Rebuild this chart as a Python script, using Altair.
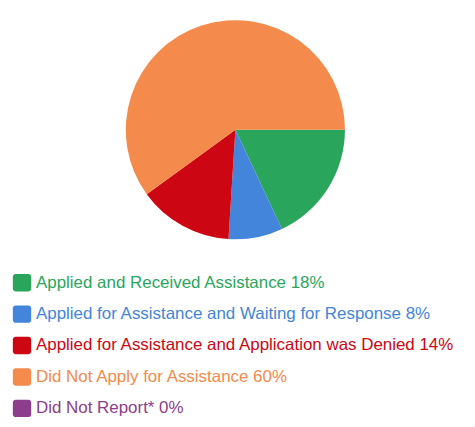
import altair as alt
import pandas as pd

categories = [
    "Applied and Received Assistance",
    "Applied for Assistance and Waiting for Response",
    "Applied for Assistance and Application was Denied",
    "Did Not Apply for Assistance",
    "Did Not Report*",
]
values = [18, 8, 14, 60, 0]
colors = ["#2aa65c", "#4385da", "#cc0613", "#f48a4c", "#8c3d8c"]

df = pd.DataFrame({
    "category": categories,
    "value": values,
    "order": list(range(len(categories))),
    "label": [f"{c} {v}%" for c, v in zip(categories, values)],
})

color = alt.Color("category:N", scale=alt.Scale(domain=categories, range=colors), legend=None)

pie = alt.Chart(df).mark_arc(outerRadius=113.4, stroke=None).encode(
    theta=alt.Theta("value:Q", stack=True, scale=alt.Scale(range=[1.5708, 7.8540])),
    order=alt.Order("order:Q"),
    color=color,
    x=alt.value(235.3),
    y=alt.value(118.7),
)

yscale = alt.Scale(domain=[0, 4], range=[277, 407])

swatch = alt.Chart(df).mark_rect(cornerRadius=3, yOffset=-9, y2Offset=9).encode(
    x=alt.value(5),
    x2=alt.value(24),
    y=alt.Y("order:Q", scale=yscale, axis=None),
    y2="order:Q",
    color=color,
)

text = alt.Chart(df).mark_text(
    align="left", baseline="middle", fontSize=17.5, font="Liberation Sans, Arial"
).encode(
    x=alt.value(29),
    y=alt.Y("order:Q", scale=yscale, axis=None),
    text="label:N",
    color=color,
)

chart = alt.layer(pie, swatch, text).properties(
    width=475, height=419, padding=0,
    autosize=alt.AutoSizeParams(type="none"),
).configure_view(stroke=None)

chart.save("out.html", embed_options={"renderer": "svg", "actions": False})
